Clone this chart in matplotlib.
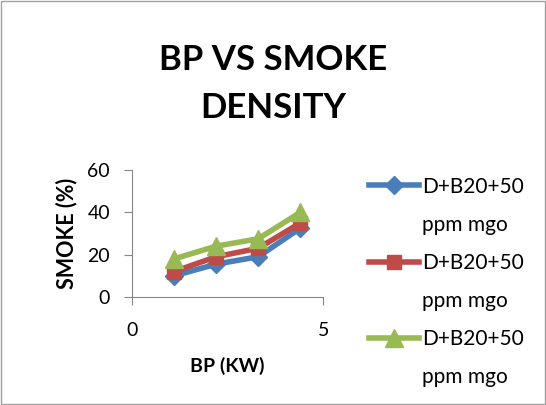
import matplotlib.pyplot as plt
from matplotlib.lines import Line2D
from matplotlib.patches import Rectangle

plt.rcParams["font.family"] = ["Lato", "DejaVu Sans"]

bp = [1.1, 2.2, 3.3, 4.4]
smoke_blue = [10, 15.5, 19, 32.5]
smoke_red = [12, 19, 23, 35]
smoke_green = [18, 24, 27.5, 40]
series_name = "D+B20+50"
series_unit = "ppm mgo"

fig = plt.figure(figsize=(5.46, 4.05), dpi=100)
ax = fig.add_axes([0.242, 0.267, 0.350, 0.313])

h1, = ax.plot(bp, smoke_blue, color="#4A7EBB", marker="D", markersize=9, linewidth=4)
h2, = ax.plot(bp, smoke_red, color="#BE4B48", marker="s", markersize=10, linewidth=4)
h3, = ax.plot(bp, smoke_green, color="#98B954", marker="^", markersize=13, linewidth=4)

ax.set_xlim(0, 5)
ax.set_ylim(0, 60)
ax.set_xticks([0, 5])
ax.set_yticks([0, 20, 40, 60])
ax.tick_params(labelsize=14, length=6, color="#868686")
ax.tick_params(axis="x", pad=12)
ax.tick_params(axis="y", pad=10)
for s in ["top", "right"]:
    ax.spines[s].set_visible(False)
for s in ["left", "bottom"]:
    ax.spines[s].set_color("#868686")

ax.set_xlabel("BP (KW)", fontsize=14, fontweight="bold", labelpad=13)
ax.set_ylabel("SMOKE (%)", fontsize=15.5, fontweight="bold", labelpad=7)

fig.text(0.5, 0.891, "BP VS SMOKE\nDENSITY", ha="center", va="top",
         fontsize=25, fontweight="bold", linespacing=1.62)

# Excel-style legend: marker on the first line, unit on the next line
blank = Line2D([], [], linestyle="none")
handles = [h1, blank, h2, blank, h3, blank]
labels = [series_name, series_unit] * 3
fig.legend(handles, labels, loc="center left", bbox_to_anchor=(0.641, 0.304),
           frameon=False, fontsize=15, handlelength=2.4, labelspacing=0.87,
           handletextpad=0.15)

fig.patches.append(Rectangle((0.002, 0.002), 0.996, 0.996, transform=fig.transFigure,
                             fill=False, edgecolor="#A0A0A0", linewidth=1))

fig.savefig("out.png", dpi=100)
